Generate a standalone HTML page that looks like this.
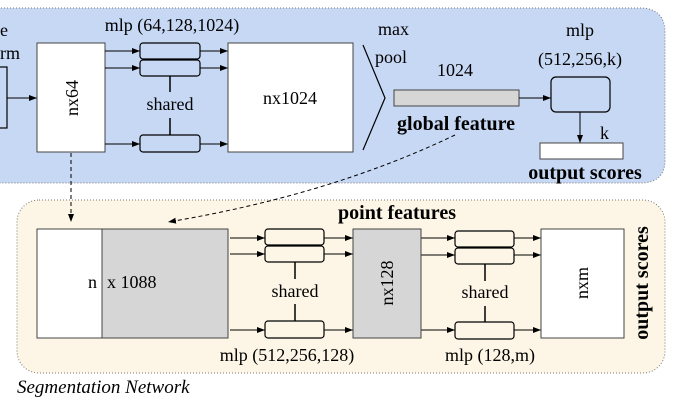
<!DOCTYPE html>
<html><head><style>
body{margin:0;background:#fff;}
svg text{font-family:"Liberation Serif",serif;}
</style></head><body>
<svg width="678" height="401" viewBox="0 0 678 401" xmlns="http://www.w3.org/2000/svg">
<defs><marker id="a" markerWidth="8" markerHeight="6" refX="8" refY="3" orient="auto" markerUnits="userSpaceOnUse"><path d="M0,0 L8,3 L0,6z" fill="#000"/></marker></defs>
<!-- top panel -->
<path d="M-5,8 H640 Q665,8 665,33 V160 Q665,183 640,183 H-5 Z" fill="#c7d8f4" stroke="#777" stroke-dasharray="1,2"/>
<rect x="-2" y="67" width="9" height="61" fill="none" stroke="#000" stroke-width="1.2"/>
<line x1="7" y1="98" x2="37" y2="98" stroke="#000" marker-end="url(#a)"/>
<text x="0" y="36" font-size="18">e</text>
<text x="0" y="59" font-size="18">rm</text>
<rect x="37" y="43" width="68" height="109" fill="#fff" stroke="#444"/>
<text transform="translate(78,98) rotate(-90)" font-size="18" text-anchor="middle">nx64</text>
<text x="172" y="31" font-size="18" text-anchor="middle">mlp (64,128,1024)</text>
<g stroke="#000" fill="#c7d8f4" stroke-width="1.2">
<rect x="140" y="43" width="60" height="16" rx="3"/><rect x="140" y="60" width="60" height="16" rx="3"/><rect x="140" y="135" width="60" height="17" rx="3"/>
</g>
<g stroke="#000" marker-end="url(#a)">
<line x1="105" y1="51" x2="140" y2="51"/><line x1="105" y1="68" x2="140" y2="68"/><line x1="105" y1="144" x2="140" y2="144"/>
<line x1="200" y1="51" x2="228" y2="51"/><line x1="200" y1="68" x2="228" y2="68"/><line x1="200" y1="144" x2="228" y2="144"/>
</g>
<line x1="170" y1="76" x2="170" y2="92" stroke="#000" stroke-width="1.5"/><line x1="170" y1="118" x2="170" y2="135" stroke="#000" stroke-width="1.5"/>
<text x="170" y="110" font-size="18" text-anchor="middle">shared</text>
<rect x="228" y="43" width="125" height="109" fill="#fff" stroke="#444"/>
<text x="290" y="104" font-size="18" text-anchor="middle">nx1024</text>
<polyline points="363,45 385,98 363,150" fill="none" stroke="#000" stroke-width="1.2"/>
<text x="378" y="35" font-size="18">max</text>
<text x="375" y="63" font-size="18">pool</text>
<text x="455" y="76" font-size="18" text-anchor="middle">1024</text>
<rect x="394" y="90" width="125" height="16" fill="#d6d6d6" stroke="#444"/>
<text x="456" y="130" font-size="20" font-weight="bold" text-anchor="middle">global feature</text>
<line x1="519" y1="98" x2="551" y2="98" stroke="#000" marker-end="url(#a)"/>
<rect x="551" y="77" width="59" height="35" rx="5" fill="#c7d8f4" stroke="#000" stroke-width="1.2"/>
<text x="580" y="36" font-size="18" text-anchor="middle">mlp</text>
<text x="580" y="65" font-size="18" text-anchor="middle">(512,256,k)</text>
<line x1="580" y1="112" x2="580" y2="143" stroke="#000" marker-end="url(#a)"/>
<text x="600" y="139" font-size="18">k</text>
<rect x="540" y="143" width="83" height="16" fill="#fff" stroke="#444"/>
<text x="585" y="179" font-size="20" font-weight="bold" text-anchor="middle">output scores</text>
<!-- bottom panel -->
<rect x="17" y="200" width="648" height="173" rx="22" fill="#fdf6e6" stroke="#777" stroke-dasharray="1,2"/>
<line x1="71" y1="153" x2="71" y2="222" stroke="#000" stroke-dasharray="4,3" marker-end="url(#a)"/>
<path d="M455,135 Q330,195 168,222" fill="none" stroke="#000" stroke-dasharray="4,3" marker-end="url(#a)"/>
<text x="397" y="219" font-size="20" font-weight="bold" text-anchor="middle">point features</text>
<rect x="37" y="229" width="65" height="109" fill="#fff" stroke="#444"/>
<rect x="102" y="229" width="126" height="109" fill="#d6d6d6" stroke="#444"/>
<text x="97" y="288" font-size="18" text-anchor="end">n</text>
<text x="107" y="288" font-size="18">x 1088</text>
<g stroke="#000" fill="#fdf6e6" stroke-width="1.2">
<rect x="265" y="229" width="59" height="16" rx="3"/><rect x="265" y="246" width="59" height="16" rx="3"/><rect x="265" y="321" width="59" height="17" rx="3"/>
<rect x="455" y="231" width="59" height="16" rx="3"/><rect x="455" y="248" width="59" height="16" rx="3"/><rect x="455" y="322" width="59" height="17" rx="3"/>
</g>
<g stroke="#000" marker-end="url(#a)">
<line x1="230" y1="238" x2="265" y2="238"/><line x1="230" y1="254" x2="265" y2="254"/><line x1="230" y1="330" x2="265" y2="330"/>
<line x1="324" y1="238" x2="353" y2="238"/><line x1="324" y1="254" x2="353" y2="254"/><line x1="324" y1="330" x2="353" y2="330"/>
<line x1="421" y1="238" x2="455" y2="238"/><line x1="421" y1="255" x2="455" y2="255"/><line x1="421" y1="330" x2="455" y2="330"/>
<line x1="514" y1="238" x2="541" y2="238"/><line x1="514" y1="255" x2="541" y2="255"/><line x1="514" y1="330" x2="541" y2="330"/>
</g>
<line x1="295" y1="262" x2="295" y2="279" stroke="#000" stroke-width="1.5"/><line x1="295" y1="304" x2="295" y2="321" stroke="#000" stroke-width="1.5"/>
<line x1="485" y1="264" x2="485" y2="281" stroke="#000" stroke-width="1.5"/><line x1="485" y1="306" x2="485" y2="322" stroke="#000" stroke-width="1.5"/>
<text x="295" y="297" font-size="18" text-anchor="middle">shared</text>
<text x="485" y="298" font-size="18" text-anchor="middle">shared</text>
<rect x="353" y="229" width="68" height="109" fill="#d6d6d6" stroke="#444"/>
<text transform="translate(393,283) rotate(-90)" font-size="18" text-anchor="middle">nx128</text>
<rect x="541" y="229" width="83" height="109" fill="#fff" stroke="#444"/>
<text transform="translate(588,283) rotate(-90)" font-size="18" text-anchor="middle">nxm</text>
<text transform="translate(648,283) rotate(-90)" font-size="20" font-weight="bold" text-anchor="middle">output scores</text>
<text x="287" y="361" font-size="18" text-anchor="middle">mlp (512,256,128)</text>
<text x="490" y="361" font-size="18" text-anchor="middle">mlp (128,m)</text>
<text x="17" y="393" font-size="19" font-style="italic">Segmentation Network</text>
</svg>
</body></html>
